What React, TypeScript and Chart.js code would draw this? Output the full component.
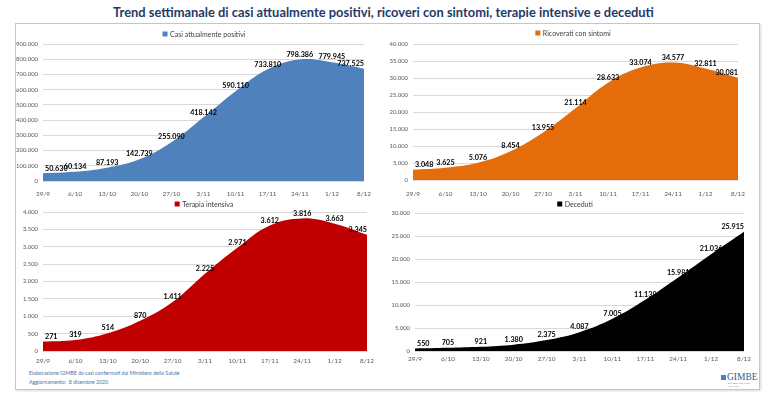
import { useEffect, useRef } from 'react';
import { Chart, registerables } from 'chart.js';

Chart.register(...registerables);

// Weekly snapshots (Tuesday dates)
const weeks = ['29/9', '6/10', '13/10', '20/10', '27/10', '3/11', '10/11', '17/11', '24/11', '1/12', '8/12'];

const casiPositivi = [50630, 60134, 87193, 142739, 255090, 418142, 590110, 733810, 798386, 779945, 737525];
const ricoveratiSintomi = [3048, 3625, 5076, 8454, 13955, 21114, 28633, 33074, 34577, 32811, 30081];
const terapiaIntensiva = [271, 319, 514, 870, 1411, 2225, 2971, 3612, 3816, 3663, 3345];
const deceduti = [550, 705, 921, 1380, 2375, 4087, 7005, 11139, 15981, 21036, 25915];

// Y-axis ranges: [max, step]
const axisPositivi = [900000, 100000];
const axisRicoverati = [40000, 5000];
const axisTerapia = [4000, 500];
const axisDeceduti = [30000, 5000];

const FONT = 'Lato, "Liberation Sans", Arial, sans-serif';

const fmt = (v: number) => String(Math.round(v)).replace(/\B(?=(\d{3})+(?!\d))/g, '.');

type Geometry = {
  left: number; top: number; w: number; h: number;
  yW: number; xH: number; padTop: number; padRight: number;
  xPad: number; legendX: number; legendY: number;
};

// Value labels above each point
const valueLabels = {
  id: 'valueLabels',
  afterDatasetsDraw(chart: any) {
    const ctx = chart.ctx;
    const ds = chart.data.datasets[0];
    const meta = chart.getDatasetMeta(0);
    ctx.save();
    ctx.font = `bold 7.2px ${FONT}`;
    ctx.fillStyle = '#000';
    ctx.textBaseline = 'bottom';
    const n = meta.data.length;
    meta.data.forEach((pt: any, i: number) => {
      const txt = fmt(ds.data[i]);
      let x = pt.x;
      if (i === 0) { ctx.textAlign = 'left'; x = pt.x + 2; }
      else if (i === n - 1) { ctx.textAlign = 'right'; x = pt.x; }
      else ctx.textAlign = 'center';
      ctx.fillText(txt, x, pt.y - 1.5);
    });
    ctx.restore();
  },
};

// Single-entry legend: coloured square + series name
const areaLegend = {
  id: 'areaLegend',
  afterDraw(chart: any, _args: any, opts: any) {
    const ctx = chart.ctx;
    const ds = chart.data.datasets[0];
    ctx.save();
    ctx.font = `7px ${FONT}`;
    const tw = ctx.measureText(ds.label).width;
    const box = 5;
    const gap = 2.5;
    const total = box + gap + tw;
    const x0 = opts.x - total / 2;
    ctx.fillStyle = ds.backgroundColor;
    ctx.fillRect(x0, opts.y - box / 2, box, box);
    ctx.fillStyle = '#404040';
    ctx.textAlign = 'left';
    ctx.textBaseline = 'middle';
    ctx.fillText(ds.label, x0 + box + gap, opts.y + 0.5);
    ctx.restore();
  },
};

function AreaPanel(props: { label: string; values: number[]; color: string; axis: number[]; g: Geometry }) {
  const ref = useRef<HTMLCanvasElement>(null);
  const { label, values, color, axis, g } = props;

  useEffect(() => {
    if (!ref.current) return;
    const chart = new Chart(ref.current, {
      type: 'line',
      data: {
        labels: weeks,
        datasets: [
          {
            label,
            data: values,
            fill: 'origin',
            backgroundColor: color,
            borderColor: color,
            borderWidth: 0,
            pointRadius: 0,
            tension: 0.4,
          },
        ],
      },
      options: {
        responsive: false,
        maintainAspectRatio: false,
        animation: false,
        layout: { padding: { top: g.padTop, right: g.padRight, left: 0, bottom: 0 } },
        plugins: {
          legend: { display: false },
          tooltip: { enabled: false },
          areaLegend: { x: g.legendX, y: g.legendY },
        } as any,
        scales: {
          x: {
            offset: false,
            grid: { display: false, drawTicks: false },
            border: { display: false },
            ticks: {
              autoSkip: false,
              maxRotation: 0,
              padding: g.xPad,
              color: '#595959',
              font: { family: FONT, size: 6.4 },
            },
            afterFit: (s: any) => { s.height = g.xH; },
          },
          y: {
            min: 0,
            max: axis[0],
            grid: { color: '#d9d9d9', drawTicks: false, lineWidth: 1 },
            border: { display: false },
            ticks: {
              stepSize: axis[1],
              padding: 5,
              color: '#595959',
              font: { family: FONT, size: 5.9 },
              callback: (v: any) => fmt(Number(v)),
            },
            afterFit: (s: any) => { s.width = g.yW; },
          },
        },
      } as any,
      plugins: [valueLabels, areaLegend],
    });
    return () => chart.destroy();
  }, []);

  return (
    <canvas
      ref={ref}
      width={g.w}
      height={g.h}
      style={{ position: 'absolute', left: g.left, top: g.top, width: g.w, height: g.h }}
    />
  );
}

const geoTL: Geometry = { left: 16, top: 24, w: 364, h: 176, yW: 27, xH: 19, padTop: 20, padRight: 7, xPad: 9, legendX: 188, legendY: 10 };
const geoTR: Geometry = { left: 385, top: 24, w: 370, h: 176, yW: 28, xH: 20, padTop: 20, padRight: 8, xPad: 10, legendX: 188, legendY: 9 };
const geoBL: Geometry = { left: 16, top: 196, w: 364, h: 172, yW: 27, xH: 17, padTop: 16, padRight: 3, xPad: 6, legendX: 188, legendY: 8 };
const geoBR: Geometry = { left: 385, top: 196, w: 370, h: 172, yW: 30, xH: 17, padTop: 17, padRight: 7, xPad: 4, legendX: 190, legendY: 8 };

export default function App() {
  return (
    <div style={{ position: 'fixed', left: 0, top: 0, width: 767, height: 397, background: '#fff', overflow: 'hidden', fontFamily: FONT }}>
      <div
        style={{
          position: 'absolute', left: 0, top: 4, width: 767, textAlign: 'center',
          fontWeight: 700, fontSize: 12.9, color: '#1f3a68', lineHeight: '16px',
        }}
      >
        Trend settimanale di casi attualmente positivi, ricoveri con sintomi, terapie intensive e deceduti
      </div>
      <div
        style={{
          position: 'absolute', left: 15, top: 23, width: 743, height: 365,
          border: '1px solid #c6c6c6', boxShadow: '1px 1px 2px rgba(0,0,0,0.15)',
        }}
      />
      <AreaPanel label="Casi attualmente positivi" values={casiPositivi} color="#4f81bd" axis={axisPositivi} g={geoTL} />
      <AreaPanel label="Ricoverati con sintomi" values={ricoveratiSintomi} color="#e46c0a" axis={axisRicoverati} g={geoTR} />
      <AreaPanel label="Terapia intensiva" values={terapiaIntensiva} color="#c00000" axis={axisTerapia} g={geoBL} />
      <AreaPanel label="Deceduti" values={deceduti} color="#000000" axis={axisDeceduti} g={geoBR} />
      <div
        style={{
          position: 'absolute', left: 29, top: 369, fontSize: 6, lineHeight: '10px', color: '#4a74a8',
          whiteSpace: 'nowrap', transform: 'scale(0.88)', transformOrigin: 'left top',
        }}
      >
        <div>Elaborazione GIMBE da casi confermati dal Ministero della Salute</div>
        <div>Aggiornamento:&nbsp; 8 dicembre 2020</div>
      </div>
      <div style={{ position: 'absolute', left: 721, top: 372, width: 37, textAlign: 'left', color: '#2e5c8a' }}>
        <div style={{ display: 'flex', alignItems: 'center', gap: 1 }}>
          <span style={{ display: 'inline-block', width: 5, height: 5, background: '#4f7fb5' }} />
          <span style={{ fontFamily: '"Liberation Serif", "DejaVu Serif", serif', fontSize: 9.5, lineHeight: '10px' }}>GIMBE</span>
        </div>
        <div style={{ fontSize: 2.6, lineHeight: '3px', letterSpacing: 0.3, color: '#5a7fa8', marginLeft: 7 }}>EVIDENCE FOR HEALTH</div>
      </div>
    </div>
  );
}
